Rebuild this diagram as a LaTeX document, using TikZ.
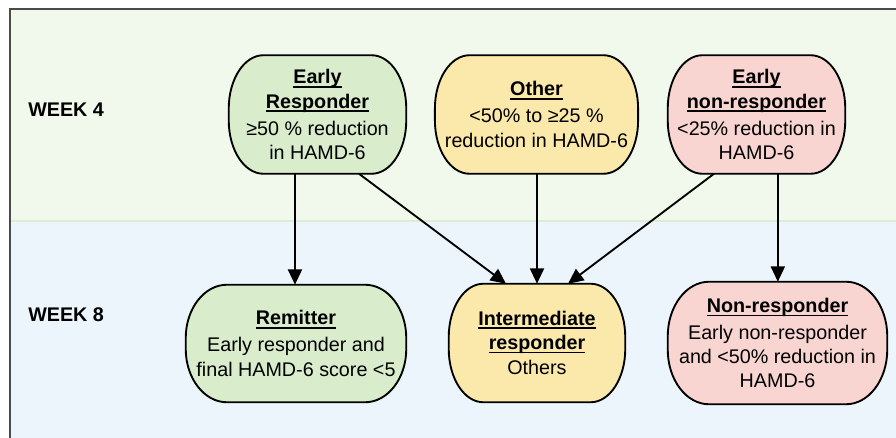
\documentclass[tikz,border=0pt]{standalone}
\usepackage{fontspec}
\setmainfont{Liberation Sans}
\usetikzlibrary{calc,arrows.meta,backgrounds}
\definecolor{bandgreen}{RGB}{241,248,236}
\definecolor{bandblue}{RGB}{237,245,252}
\definecolor{bandline}{RGB}{222,236,214}
\definecolor{framegray}{RGB}{75,75,75}
\definecolor{boxgreen}{RGB}{217,237,204}
\definecolor{boxyellow}{RGB}{250,233,170}
\definecolor{boxpink}{RGB}{249,213,210}
\newcommand\ulx[1]{\leavevmode\setbox0\hbox{\textbf{#1}}\rlap{\rule[-2.8pt]{\wd0}{1.1pt}}\box0}
% capsule outline around a node: node, fill, rx, ry
\newcommand\capsule[4]{%
  \path[draw=black,line width=1.4pt,fill=#2]
    ($(#1.north west)+(#3,0)$) -- ($(#1.north east)+(-#3,0)$)
    arc[start angle=90,end angle=0,x radius=#3,y radius=#4]
    -- ($(#1.south east)+(0,#4)$)
    arc[start angle=0,end angle=-90,x radius=#3,y radius=#4]
    -- ($(#1.south west)+(#3,0)$)
    arc[start angle=270,end angle=180,x radius=#3,y radius=#4]
    -- ($(#1.north west)+(0,-#4)$)
    arc[start angle=180,end angle=90,x radius=#3,y radius=#4] -- cycle;}
\tikzset{
  boxtext/.style={inner sep=0pt,align=center,font=\fontsize{14.8}{18.2}\selectfont},
  weeklabel/.style={inner sep=0pt,anchor=west,font=\fontsize{14.8}{18}\selectfont\bfseries},
  arr/.style={line width=1.4pt,-{Triangle[length=11.5pt,width=10.5pt]}},
}
\begin{document}
\begin{tikzpicture}[x=0.75pt,y=-0.75pt]
\useasboundingbox (0,0) rectangle (896,438);
% nodes (text only; outlines drawn on background)
\node[boxtext,minimum width=132.75pt,minimum height=88.5pt] (er) at (317.5,114.5)
  {\ulx{Early}\\\ulx{Responder}\\[2pt]≥50 \% reduction\\in HAMD-6};
\node[boxtext,minimum width=152pt,minimum height=88.5pt] (oth) at (536.5,114.5)
  {\ulx{Other}\\[2pt]<50\% to ≥25 \%\\reduction in HAMD-6};
\node[boxtext,minimum width=132.75pt,minimum height=88.5pt] (enr) at (756.5,114.5)
  {\ulx{Early}\\\ulx{non-responder}\\[2pt]<25\% reduction in\\HAMD-6};
\node[boxtext,minimum width=165pt,minimum height=87.75pt] (rem) at (296,343.5)
  {\ulx{Remitter}\\[2pt]Early responder and\\final HAMD-6 score <5};
\node[boxtext,minimum width=132pt,minimum height=88.5pt] (im) at (537,343)
  {\ulx{Intermediate}\\\ulx{responder}\\[1pt]Others};
\node[boxtext,minimum width=164.25pt,minimum height=91.5pt] (nr) at (777.5,343)
  {\ulx{Non-responder}\\[2pt]Early non-responder\\and <50\% reduction in\\HAMD-6};
\node[weeklabel] (w4) at (28,110) {WEEK 4};
\node[weeklabel] (w8) at (28,315) {WEEK 8};
\begin{scope}[on background layer]
  \fill[white] (0,0) rectangle (896,438);
  \fill[bandgreen] (10,9) rectangle (896,221);
  \fill[bandblue] (10,221) rectangle (896,438);
  \draw[bandline,line width=1.2pt] (10,221) -- (896,221);
  \draw[framegray,line width=1.5pt] (10,438) -- (10,9) -- (896,9);
  \capsule{er}{boxgreen}{26pt}{40pt}
  \capsule{oth}{boxyellow}{26pt}{40pt}
  \capsule{enr}{boxpink}{26pt}{40pt}
  \capsule{rem}{boxgreen}{31pt}{40pt}
  \capsule{im}{boxyellow}{26pt}{40pt}
  \capsule{nr}{boxpink}{31pt}{41pt}
\end{scope}
% connectors
\draw[arr] ([xshift=-16.9pt]er.south) -- ([xshift=-16.9pt]er.south |- rem.north);
\draw[arr] ([xshift=31.1pt]er.south) -- ([xshift=-23.25pt]im.north);
\draw[arr] (oth.south -| im.north) -- (im.north);
\draw[arr] ([xshift=-31.9pt]enr.south) -- ([xshift=23.25pt]im.north);
\draw[arr] ([xshift=16pt]enr.south) -- ([xshift=16pt]enr.south |- nr.north);
\end{tikzpicture}
\end{document}
